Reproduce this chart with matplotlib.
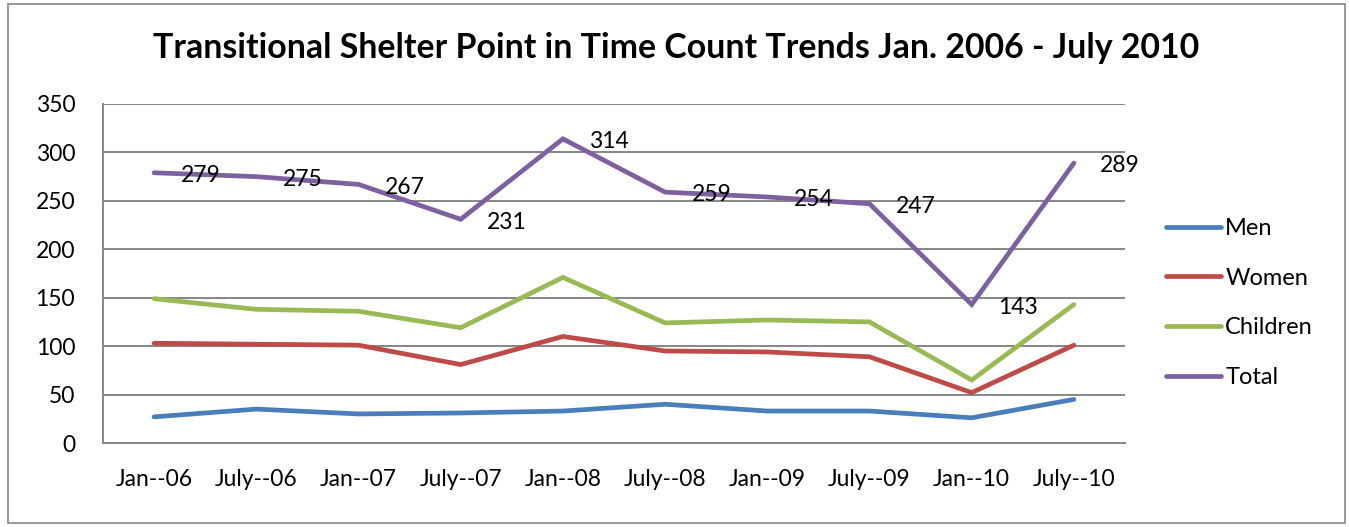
import matplotlib
matplotlib.use("Agg")
import matplotlib.pyplot as plt
from matplotlib.patches import Rectangle

categories = ["Jan--06", "July--06", "Jan--07", "July--07", "Jan--08",
              "July--08", "Jan--09", "July--09", "Jan--10", "July--10"]
men = [27, 35, 30, 31, 33, 40, 33, 33, 26, 45]
women = [103, 102, 101, 81, 110, 95, 94, 89, 52, 101]
children = [149, 138, 136, 119, 171, 124, 127, 125, 65, 143]
total = [279, 275, 267, 231, 314, 259, 254, 247, 143, 289]
yticks = [0, 50, 100, 150, 200, 250, 300, 350]

plt.rcParams['font.family'] = ['Lato', 'DejaVu Sans']

W, H = 1349, 527
fig = plt.figure(figsize=(W / 100, H / 100), dpi=100)
fig.patches.append(Rectangle((8 / W, 4 / H), (1345 - 8) / W, (523 - 4) / H,
                             transform=fig.transFigure, fill=False,
                             edgecolor="#868686", linewidth=1.2))

left, right, top, bottom = 103, 1125, 104, 443
ax = fig.add_axes([left / W, 1 - bottom / H, (right - left) / W, (bottom - top) / H])

x = list(range(len(categories)))
series = [("Men", men, "#4A7EBB"), ("Women", women, "#BE4B48"),
          ("Children", children, "#98B954"), ("Total", total, "#7D60A0")]
for name, vals, col in series:
    ax.plot(x, vals, color=col, linewidth=3.4, label=name,
            solid_capstyle="round", solid_joinstyle="miter", zorder=3)

for xi, v in zip(x, total):
    ax.annotate(str(v), (xi, v), xytext=(19, -2), textcoords="offset points",
                fontsize=16.5, va="center", ha="left", color="black", zorder=4)

ax.set_xlim(-0.5, len(categories) - 0.5)
ax.set_ylim(0, 350)
ax.set_yticks(yticks)
ax.set_xticks(x)
ax.set_xticklabels(categories)
ax.tick_params(axis="both", length=0, labelsize=16.5, colors="black")
ax.tick_params(axis="y", pad=20)
ax.tick_params(axis="x", pad=19)
ax.yaxis.grid(True, color="#868686", linewidth=1.4)
ax.set_axisbelow(True)
for s in ["top", "right"]:
    ax.spines[s].set_visible(False)
for s in ["left", "bottom"]:
    ax.spines[s].set_color("#868686")
    ax.spines[s].set_linewidth(1.4)

fig.text(676 / W, 1 - 48 / H, "Transitional Shelter Point in Time Count Trends Jan. 2006 - July 2010",
         ha="center", va="center", fontsize=24.4, fontweight="bold")

handles, labels = ax.get_legend_handles_labels()
fig.legend(handles, labels, loc="center left", bbox_to_anchor=(1145 / W, 1 - 303 / H),
           frameon=False, fontsize=17, handlelength=2.3, handletextpad=0.2,
           labelspacing=1.22)

fig.savefig("out.png", dpi=100)
